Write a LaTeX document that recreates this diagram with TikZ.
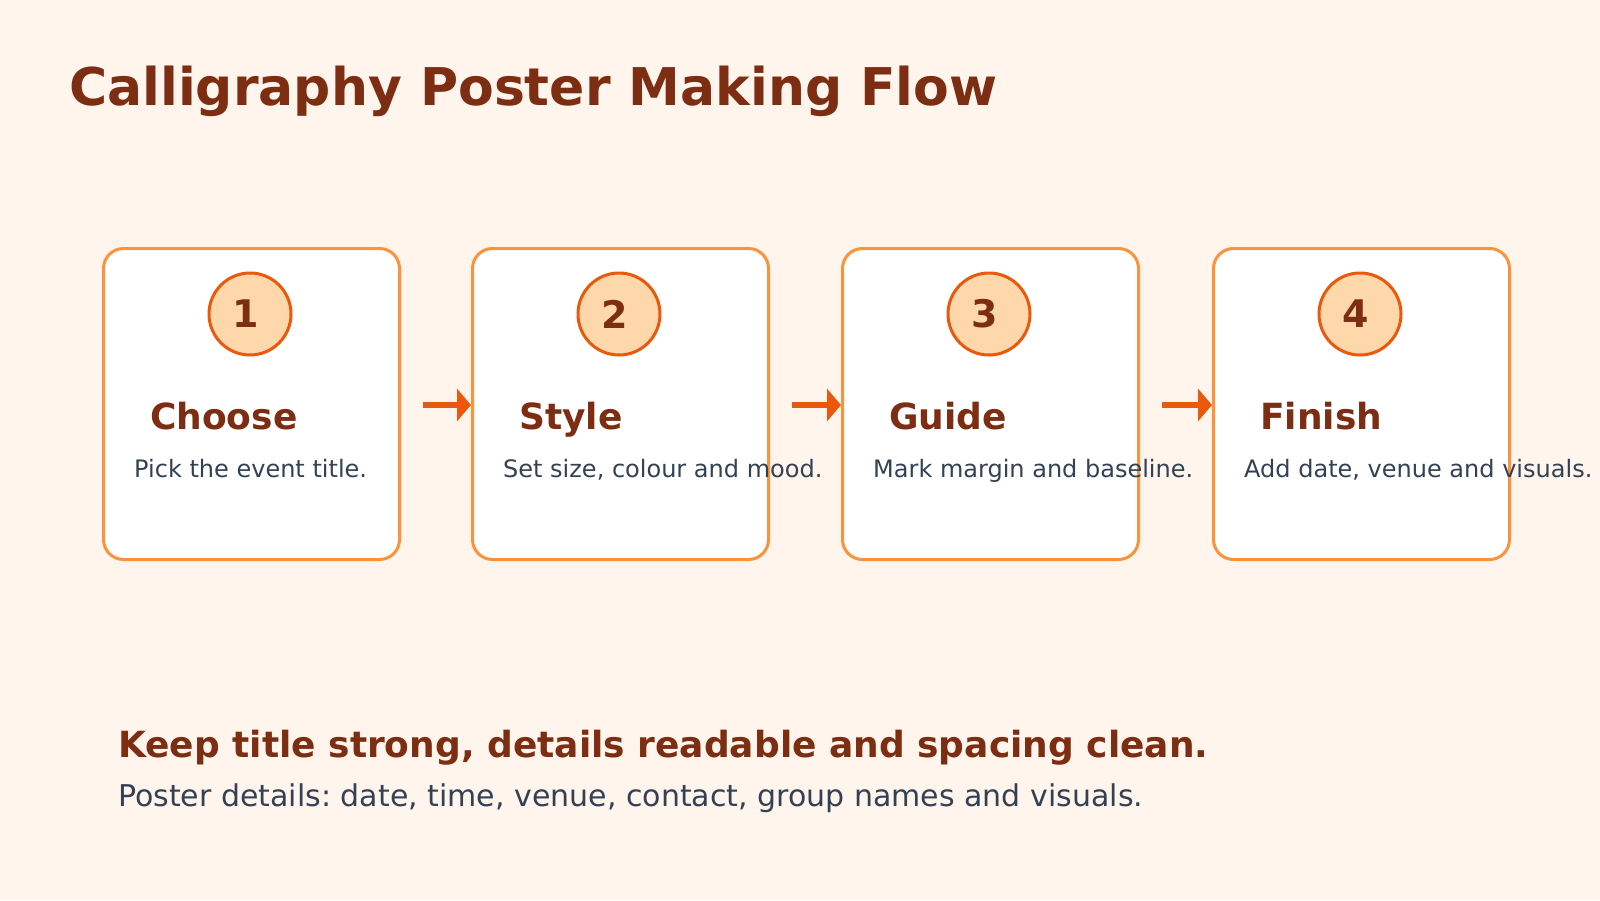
\documentclass[tikz,border=0pt]{standalone}
\usepackage{fontspec}
\setmainfont{DejaVu Sans}
\usetikzlibrary{arrows.meta}
\definecolor{bg}{HTML}{FFF5EC}
\definecolor{dark}{HTML}{7C2D12}
\definecolor{boxln}{HTML}{FB923C}
\definecolor{circf}{HTML}{FED7AA}
\definecolor{orng}{HTML}{EA580C}
\definecolor{txt}{HTML}{334155}
\begin{document}
\frenchspacing
\begin{tikzpicture}[x=1pt,y=-1pt,
  box/.style={draw=boxln,line width=3pt,fill=white,rounded corners=20pt,minimum width=296pt,minimum height=311pt,inner sep=0pt},
  num/.style={circle,draw=orng,line width=3pt,fill=circf,minimum size=82pt,inner sep=0pt,text=dark,font=\bfseries\fontsize{38}{38}\selectfont},
  head/.style={anchor=base west,text=dark,font=\bfseries\fontsize{36}{36}\selectfont,inner sep=0pt},
  desc/.style={anchor=base west,text=txt,font=\fontsize{24}{24}\selectfont,inner sep=0pt},
  arr/.style={draw=orng,line width=6pt,-{Triangle[length=14pt,width=32pt]}}]
\fill[bg] (0,0) rectangle (1600,900);
\node[anchor=base west,text=dark,font=\bfseries\fontsize{52}{52}\selectfont,inner sep=0pt] (title) at (69,105) {Calligraphy Poster Making Flow};
\foreach \i/\x/\h/\d in {1/102/Choose/Pick the event title.,2/471/Style/{Set size, colour and mood.},3/841/Guide/Mark margin and baseline.,4/1212/Finish/{Add date, venue and visuals.}}{
  \node[box,anchor=north west] (b\i) at (\x,247) {};
  \node[num] (c\i) at (\x+148,314) {\kern-8pt\i};
  \node[head] (h\i) at (\x+48,429) {\h};
  \node[desc] (d\i) at (\x+32,477) {\d};
}
\foreach \a/\b in {1/2,2/3,3/4}{
  \coordinate (s\a) at ([xshift=22pt]b\a.east|-0,405);
  \draw[arr] (s\a) -- (b\b.west|-s\a);
}
\node[anchor=base west,text=dark,font=\bfseries\fontsize{36}{36}\selectfont,inner sep=0pt] (k) at (118,757) {Keep title strong, details readable and spacing clean.};
\node[anchor=base west,text=txt,font=\fontsize{30}{30}\selectfont,inner sep=0pt] (p) at (118,806) {Poster details: date, time, venue, contact, group names and visuals.};
\end{tikzpicture}
\end{document}
